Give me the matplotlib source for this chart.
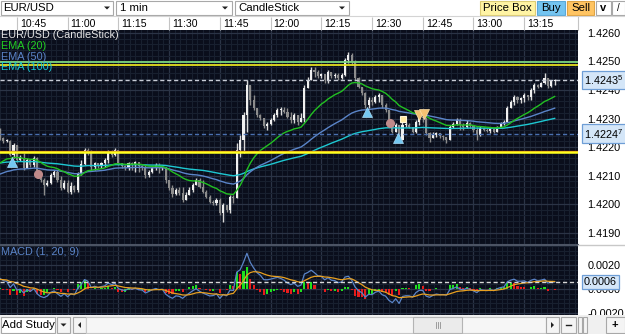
import matplotlib
matplotlib.use('Agg')
import matplotlib.pyplot as plt
from matplotlib.patches import Rectangle, Polygon
import matplotlib.transforms as mtransforms
import numpy as np

plt.rcParams['font.family'] = ['Liberation Sans', 'DejaVu Sans']
plt.rcParams['mathtext.fontset'] = 'custom'
plt.rcParams['mathtext.rm'] = 'Liberation Sans'
plt.rcParams['mathtext.default'] = 'regular'

W, H = 625, 334

# ---- data: 1 minute EUR/USD candles, first candle 10:40 ----
time_ticks = [5, 20, 35, 50, 65, 80, 95, 110, 125, 140, 155]
time_labels = ['10:45', '11:00', '11:15', '11:30', '11:45', '12:00',
               '12:15', '12:30', '12:45', '13:00', '13:15']

open0 = 1.42260
close = [
    1.42232, 1.42221, 1.42221, 1.42172, 1.42207, 1.42154, 1.42161, 1.42126, 1.42154, 1.42137,
    1.42161, 1.42112, 1.42084, 1.42067, 1.42074, 1.42102, 1.42112, 1.42084, 1.42056, 1.42074,
    1.42042, 1.42063, 1.42049, 1.42105, 1.42140, 1.42189, 1.42182, 1.42130, 1.42144, 1.42133,
    1.42144, 1.42154, 1.42182, 1.42172, 1.42189, 1.42144, 1.42133, 1.42126, 1.42144, 1.42137,
    1.42147, 1.42133, 1.42130, 1.42102, 1.42112, 1.42126, 1.42137, 1.42126, 1.42130, 1.42084,
    1.42056, 1.42035, 1.42049, 1.42039, 1.42014, 1.42032, 1.42049, 1.42067, 1.42084, 1.42060,
    1.42042, 1.42025, 1.42007, 1.42004, 1.42014, 1.41968, 1.41996, 1.41979, 1.42025, 1.42021,
    1.42189, 1.42225, 1.42312, 1.42418, 1.42365, 1.42337, 1.42312, 1.42302, 1.42274, 1.42281,
    1.42295, 1.42312, 1.42330, 1.42330, 1.42323, 1.42305, 1.42295, 1.42312, 1.42288, 1.42302,
    1.42407, 1.42435, 1.42470, 1.42463, 1.42449, 1.42456, 1.42435, 1.42463, 1.42449, 1.42453,
    1.42442, 1.42453, 1.42505, 1.42523, 1.42498, 1.42442, 1.42411, 1.42390, 1.42347, 1.42365,
    1.42358, 1.42375, 1.42382, 1.42347, 1.42330, 1.42284, 1.42253, 1.42277, 1.42225, 1.42277,
    1.42277, 1.42270, 1.42253, 1.42288, 1.42305, 1.42302, 1.42249, 1.42232, 1.42242, 1.42249,
    1.42239, 1.42235, 1.42225, 1.42270, 1.42281, 1.42295, 1.42277, 1.42270, 1.42284, 1.42274,
    1.42260, 1.42242, 1.42267, 1.42260, 1.42256, 1.42263, 1.42253, 1.42270, 1.42281, 1.42288,
    1.42337, 1.42358, 1.42375, 1.42365, 1.42372, 1.42382, 1.42375, 1.42400, 1.42418, 1.42411,
    1.42425, 1.42442, 1.42414, 1.42432, 1.42435]
high = [
    1.42267, 1.42235, 1.42228, 1.42225, 1.42214, 1.42207, 1.42172, 1.42179, 1.42161, 1.42158,
    1.42168, 1.42165, 1.42112, 1.42091, 1.42084, 1.42109, 1.42119, 1.42119, 1.42098, 1.42084,
    1.42084, 1.42077, 1.42067, 1.42112, 1.42154, 1.42196, 1.42196, 1.42189, 1.42147, 1.42144,
    1.42147, 1.42161, 1.42189, 1.42189, 1.42196, 1.42189, 1.42144, 1.42137, 1.42147, 1.42147,
    1.42151, 1.42147, 1.42137, 1.42137, 1.42119, 1.42133, 1.42144, 1.42144, 1.42137, 1.42130,
    1.42084, 1.42067, 1.42056, 1.42060, 1.42060, 1.42042, 1.42060, 1.42074, 1.42091, 1.42091,
    1.42084, 1.42049, 1.42032, 1.42014, 1.42021, 1.42021, 1.42004, 1.41996, 1.42032, 1.42032,
    1.42214, 1.42242, 1.42323, 1.42435, 1.42407, 1.42382, 1.42337, 1.42316, 1.42302, 1.42288,
    1.42302, 1.42319, 1.42337, 1.42340, 1.42340, 1.42337, 1.42323, 1.42319, 1.42312, 1.42319,
    1.42418, 1.42446, 1.42481, 1.42481, 1.42470, 1.42460, 1.42456, 1.42470, 1.42460, 1.42460,
    1.42460, 1.42460, 1.42512, 1.42533, 1.42530, 1.42505, 1.42446, 1.42411, 1.42393, 1.42375,
    1.42375, 1.42382, 1.42390, 1.42382, 1.42354, 1.42330, 1.42288, 1.42284, 1.42277, 1.42288,
    1.42288, 1.42284, 1.42270, 1.42295, 1.42312, 1.42323, 1.42305, 1.42253, 1.42253, 1.42253,
    1.42249, 1.42242, 1.42235, 1.42277, 1.42288, 1.42302, 1.42302, 1.42284, 1.42295, 1.42288,
    1.42277, 1.42270, 1.42274, 1.42270, 1.42267, 1.42267, 1.42267, 1.42274, 1.42288, 1.42295,
    1.42344, 1.42365, 1.42382, 1.42379, 1.42375, 1.42390, 1.42382, 1.42407, 1.42425, 1.42421,
    1.42428, 1.42460, 1.42442, 1.42435, 1.42439]
low = [
    1.42225, 1.42214, 1.42218, 1.42168, 1.42161, 1.42147, 1.42151, 1.42119, 1.42126, 1.42130,
    1.42130, 1.42102, 1.42077, 1.42032, 1.42063, 1.42070, 1.42095, 1.42077, 1.42049, 1.42053,
    1.42039, 1.42035, 1.42042, 1.42042, 1.42102, 1.42137, 1.42172, 1.42119, 1.42119, 1.42126,
    1.42126, 1.42130, 1.42144, 1.42165, 1.42168, 1.42137, 1.42126, 1.42119, 1.42119, 1.42119,
    1.42112, 1.42112, 1.42119, 1.42091, 1.42095, 1.42109, 1.42119, 1.42109, 1.42119, 1.42074,
    1.42049, 1.42025, 1.42032, 1.42032, 1.42007, 1.42025, 1.42032, 1.42042, 1.42067, 1.42056,
    1.42039, 1.42021, 1.42004, 1.41996, 1.41996, 1.41961, 1.41937, 1.41972, 1.41968, 1.42004,
    1.42021, 1.42165, 1.42179, 1.42253, 1.42347, 1.42330, 1.42305, 1.42295, 1.42267, 1.42260,
    1.42277, 1.42291, 1.42305, 1.42312, 1.42319, 1.42302, 1.42284, 1.42284, 1.42277, 1.42295,
    1.42288, 1.42407, 1.42435, 1.42446, 1.42442, 1.42442, 1.42425, 1.42425, 1.42442, 1.42442,
    1.42435, 1.42439, 1.42449, 1.42495, 1.42488, 1.42435, 1.42407, 1.42382, 1.42337, 1.42337,
    1.42347, 1.42354, 1.42358, 1.42337, 1.42323, 1.42277, 1.42249, 1.42253, 1.42218, 1.42225,
    1.42270, 1.42267, 1.42249, 1.42249, 1.42277, 1.42288, 1.42242, 1.42218, 1.42235, 1.42235,
    1.42232, 1.42225, 1.42214, 1.42225, 1.42267, 1.42277, 1.42260, 1.42260, 1.42267, 1.42267,
    1.42253, 1.42225, 1.42239, 1.42256, 1.42253, 1.42249, 1.42249, 1.42253, 1.42270, 1.42277,
    1.42288, 1.42337, 1.42347, 1.42354, 1.42354, 1.42358, 1.42365, 1.42365, 1.42390, 1.42407,
    1.42411, 1.42421, 1.42407, 1.42411, 1.42418]

# EMA values at the first visible candle (history before 10:40 not shown)
ema_start = {20: 1.42144, 50: 1.42105, 100: 1.42144}
signal_start = 0.0008

price_ticks = [1.4190, 1.4200, 1.4210, 1.4220, 1.4230, 1.4240, 1.4250, 1.4260]
macd_ticks = [-0.0020, 0.0000, 0.0020]
alert_lines = [(1.42497, '#7cd67c', 1.3), (1.42488, '#e6e020', 1.3),
               (1.42186, '#b01818', 1.0), (1.42181, '#ffff1e', 1.8)]
order_level = 1.42247

buy_marks = [(3.5, 1.42148), (108.6, 1.42322), (117.7, 1.42231)]
sell_marks = [(123.9, 1.42312), (125.4, 1.42316)]
close_marks = [(11.3, 1.42104), (115.3, 1.42285)]
pending_marks = [(119.2, 1.42297)]


def ema(values, span, seed):
    a = 2.0 / (span + 1)
    out = [seed]
    for v in values[1:]:
        out.append(out[-1] + a * (v - out[-1]))
    return np.array(out)


n = len(close)
x = np.arange(n)
c = np.array(close)
o = np.array([open0] + close[:-1])
hi = np.maximum(np.array(high), np.maximum(o, c))
lo = np.minimum(np.array(low), np.minimum(o, c))

ema20 = ema(close, 20, ema_start[20])
ema50 = ema(close, 50, ema_start[50])
ema100 = ema(close, 100, ema_start[100])
macd = c - ema20                      # MACD(1, 20): EMA(1) - EMA(20)
signal = ema(list(macd), 9, signal_start)
hist = macd - signal
hist_col = ['#1ee01e' if k == 0 or hist[k] >= hist[k - 1] else '#e81c1c' for k in range(n)]

BG = '#0a0e1b'
XLIM = (0.06, 170.9)


def fy(y):
    return 1 - y / H


fig = plt.figure(figsize=(W / 100, H / 100), dpi=100, facecolor='white')

# ---------- price panel ----------
ax = fig.add_axes([0, fy(244), 578 / W, 214 / H])
ax.set_facecolor(BG)
ax.set_xlim(*XLIM)
ax.set_ylim(1.418597, 1.426105)
ax.set_xticks(time_ticks)
ax.set_xticks(np.arange(0, 171, 5 / 3), minor=True)
ax.set_yticks(price_ticks)
ax.set_yticks(np.arange(1.4186, 1.4262, 0.0002), minor=True)
ax.grid(which='minor', color='#18202f', lw=0.8)
ax.grid(which='major', color='#2b3446', lw=0.9)
ax.set_axisbelow(True)
ax.tick_params(axis='x', which='both', length=0, labelbottom=False)
ax.yaxis.tick_right()
ax.tick_params(axis='y', which='both', length=0, pad=6.5, labelsize=7.8)
ax.set_yticklabels(['%.4f' % p for p in price_ticks])
for s in ax.spines.values():
    s.set_visible(False)

up = c >= o
wick_col = np.where(up, '#d8d8d8', '#8c8c8c')
body_col = np.where(up, '#f0f0f0', '#8c8c8c')
ax.vlines(x, lo, hi, colors=wick_col, lw=1, zorder=3)
ax.bar(x, np.maximum(np.abs(c - o), 0.00003), bottom=np.minimum(o, c), width=0.62,
       color=body_col, linewidth=0, zorder=4)

ax.plot(x, ema100, color='#1ec8d2', lw=1, zorder=5)
ax.plot(x, ema50, color='#5a84c8', lw=1, zorder=5)
ax.plot(x, ema20, color='#22c022', lw=1, zorder=5)

for lvl, col, lw in alert_lines:
    ax.axhline(lvl, color=col, lw=lw, zorder=6)
ax.axhline(close[-1], color='#c8ccd6', lw=1, ls=(0, (3, 2)), zorder=6)
ax.axhline(order_level, color='#4a70b0', lw=1, ls=(0, (3, 2)), zorder=6)

ax.plot(*zip(*buy_marks), ls='none', marker='^', ms=6.5, color='#74c8f2', mec='#a8dcf8', mew=0.5, zorder=8)
ax.plot(*zip(*sell_marks), ls='none', marker='v', ms=6.5, color='#f5c272', mec='#ffe0a8', mew=0.5, zorder=8)
ax.plot(*zip(*close_marks), ls='none', marker='o', ms=5.5, color='#c08a8a', mec='#c08a8a', zorder=8)
ax.plot(*zip(*pending_marks), ls='none', marker='s', ms=4.5, color='#ffe8a0', mec='#fff6d8', mew=0.8, zorder=8)

tr = mtransforms.blended_transform_factory(ax.transAxes, ax.transData)


def tag(axis, trans, val, txt):
    axis.text(1 + 6 / 578, val, txt, transform=trans, ha='left', va='center',
              fontsize=7.8, color='#000000', clip_on=False, zorder=20,
              bbox=dict(boxstyle='square,pad=0.22', fc='#d4e6f8', ec='#6e9ed6', lw=0.9))


def sup_label(p):
    s = '%.5f' % p
    return '%s$^{%s}$' % (s[:-1], s[-1])


tag(ax, tr, close[-1], sup_label(close[-1]))
tag(ax, tr, order_level, sup_label(order_level))

# ---------- MACD panel ----------
am = fig.add_axes([0, fy(315), 578 / W, 70 / H])
am.set_facecolor(BG)
am.set_xlim(*XLIM)
am.set_ylim(-0.002167, 0.003667)
am.set_xticks(time_ticks)
am.set_xticks(np.arange(0, 171, 5 / 3), minor=True)
am.set_yticks(macd_ticks)
am.set_yticks(np.arange(-0.0020, 0.0037, 0.0004), minor=True)
am.grid(which='minor', color='#18202f', lw=0.8)
am.grid(which='major', color='#2b3446', lw=0.9)
am.set_axisbelow(True)
am.tick_params(axis='x', which='both', length=0, labelbottom=False)
am.yaxis.tick_right()
am.tick_params(axis='y', which='both', length=0, pad=7, labelsize=7.8)
am.set_yticklabels(['%.4f' % v for v in macd_ticks])
for s in am.spines.values():
    s.set_visible(False)
am.bar(x, hist, width=0.62, color=hist_col, linewidth=0, zorder=3)
am.plot(x, macd, color='#5a84c8', lw=0.9, zorder=4)
am.plot(x, signal, color='#e8a020', lw=0.9, zorder=5)
am.axhline(macd[-1], color='#d8d8d8', lw=1, ls=(0, (3, 2)), zorder=6)
trm = mtransforms.blended_transform_factory(am.transAxes, am.transData)
tag(am, trm, macd[-1], '%.4f' % macd[-1])

# ---------- time row ----------
at = fig.add_axes([0, fy(30), 578 / W, 14 / H], sharex=ax)
at.set_facecolor('white')
at.set_yticks([])
at.tick_params(axis='x', which='major', direction='in', length=9.6, width=0.8,
               color='#c4c4c4', labelbottom=False)
at.tick_params(axis='x', which='minor', length=0)
for name, s in at.spines.items():
    s.set_visible(name == 'right')
    s.set_color('#c4c4c4')
for t, lab in zip(time_ticks, time_labels):
    at.annotate(lab, xy=(t, 0.45), xycoords=('data', 'axes fraction'), xytext=(2.2, 0),
                textcoords='offset points', ha='left', va='center', fontsize=7.6, color='#000000')

# ---------- legends ----------
fig.text(1 / W, fy(30.5), 'EUR/USD (CandleStick)', va='top', fontsize=7.8, color='#e4e4e4')
fig.text(1 / W, fy(41), 'EMA (20)', va='top', fontsize=7.8, color='#22d022')
fig.text(1 / W, fy(51.5), 'EMA (50)', va='top', fontsize=7.8, color='#5a84c8')
fig.text(1 / W, fy(62), 'EMA (100)', va='top', fontsize=7.8, color='#1ec8d2')
fig.text(1 / W, fy(247), 'MACD (1, 20, 9)', va='top', fontsize=7.8, color='#5a84c8')

# ---------- window chrome (pixel coordinates) ----------
ui = fig.add_axes([0, 0, 1, 1], zorder=10)
ui.set_xlim(0, W)
ui.set_ylim(H, 0)
ui.axis('off')
ui.patch.set_alpha(0)


def box(x0, y0, x1, y1, fc='white', ec='#a8a8a8', lw=0.8):
    ui.add_patch(Rectangle((x0, y0), x1 - x0, y1 - y0, fc=fc, ec=ec, lw=lw))


def arrow_down(xc, yc):
    ui.add_patch(Polygon([(xc - 3, yc - 1.5), (xc + 3, yc - 1.5), (xc, yc + 1.5)], color='#202020', lw=0))


# separators
ui.plot([0, 578], [244.5, 244.5], color='#4c5464', lw=1.5)
ui.plot([578, W], [244.5, 244.5], color='#c8c8c8', lw=1)
ui.plot([0, W], [16, 16], color='#d4d4d4', lw=0.8)

# toolbar
box(0.5, 0.5, 113, 15)
box(116, 0.5, 232, 15)
box(235, 0.5, 349, 15)
for xc in (107, 225, 342):
    arrow_down(xc, 8)
ui.text(3, 8, 'EUR/USD', va='center', fontsize=8.2)
ui.text(120, 8, '1 min', va='center', fontsize=8.2)
ui.text(238, 8, 'CandleStick', va='center', fontsize=8.2)
box(480, 1, 535, 15, fc='#fff4a4', ec='#dccc74')
box(537, 1, 565, 15, fc='#74c4f0', ec='#5aa8d8')
box(567, 1, 594, 15, fc='#ffc462', ec='#e0a444')
ui.text(507.5, 8, 'Price Box', ha='center', va='center', fontsize=8.2)
ui.text(551, 8, 'Buy', ha='center', va='center', fontsize=8.2)
ui.text(580.5, 8, 'Sell', ha='center', va='center', fontsize=8.2)
box(596, 1, 611, 15)
box(612, 1, 624.5, 15)
ui.text(603.5, 8, 'v', ha='center', va='center', fontsize=8, fontweight='bold')
ui.text(618, 8, '/', ha='center', va='center', fontsize=7)

# bottom bar
box(0, 315, W, 334, fc='#f0f0f0', ec='#f0f0f0', lw=0)
box(0.5, 317, 55, 333)
ui.text(2.5, 325, 'Add Study', va='center', fontsize=8.2)
box(57, 317, 70, 333, fc='#f4f4f4')
arrow_down(63.5, 325)
box(73, 317, 86, 333, fc='#f4f4f4')
ui.add_patch(Polygon([(78, 325), (81, 322), (81, 328)], color='#202020', lw=0))
box(86, 317, 546, 333, fc='#f6f6f6', ec='#c8c8c8')
box(413, 317, 462, 333, fc='#ebebeb', ec='#b4b4b4')
for gx in (435.5, 437.5, 439.5):
    ui.plot([gx, gx], [322, 328], color='#909090', lw=0.6)
box(546, 317, 559, 333, fc='#f4f4f4')
ui.add_patch(Polygon([(551, 322), (554, 325), (551, 328)], color='#202020', lw=0))
box(561, 317, 576, 333, fc='#f4f4f4')
ui.plot([566, 571], [325, 325], color='#202020', lw=1)
box(578, 317, 582, 333, fc='#f4f4f4')
box(583, 317, 587, 333, fc='#f4f4f4')
box(606, 317, 624.5, 333, fc='#f4f4f4')
ui.text(615, 325, '+', ha='center', va='center', fontsize=8, fontweight='bold')

fig.savefig('out.png', dpi=100, facecolor='white')
